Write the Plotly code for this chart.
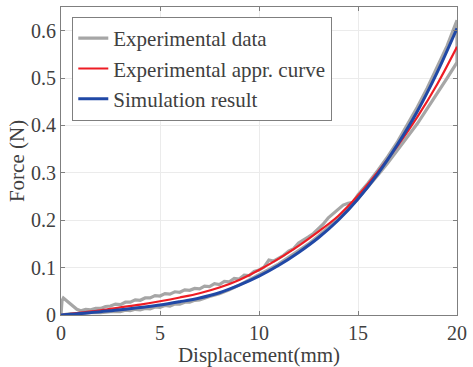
import plotly.graph_objects as go

# ---- data ----
# Experimental data: loading (upper) branch
exp_up_x = [0.0, 0.05, 0.12, 0.3, 0.5, 0.8, 1.0, 1.25, 1.5, 1.75, 2.0, 2.25, 2.5, 2.75, 3.0,
            3.25, 3.5, 3.75, 4.0, 4.25, 4.5, 4.75, 5.0, 5.25, 5.5, 5.75, 6.0, 6.25, 6.5,
            6.75, 7.0, 7.25, 7.5, 7.75, 8.0, 8.25, 8.5, 8.75, 9.0, 9.25, 9.5, 9.75, 10.0,
            10.25, 10.5, 10.75, 11.0, 11.25, 11.5, 11.75, 12.0, 12.25, 12.5, 12.75, 13.0,
            13.25, 13.5, 13.75, 14.0, 14.25, 14.5, 14.75, 15.0, 15.5, 16.0, 16.5, 17.0,
            17.5, 18.0, 18.5, 19.0, 19.5, 20.0]
exp_up_y = [0.0, 0.030, 0.036, 0.030, 0.022, 0.012, 0.009, 0.012, 0.011, 0.014, 0.014, 0.018,
            0.019, 0.023, 0.022, 0.027, 0.027, 0.032, 0.031, 0.036, 0.036, 0.041, 0.040,
            0.045, 0.044, 0.049, 0.048, 0.053, 0.052, 0.056, 0.055, 0.061, 0.060, 0.066,
            0.064, 0.071, 0.070, 0.077, 0.076, 0.084, 0.083, 0.092, 0.095, 0.101, 0.116,
            0.114, 0.120, 0.126, 0.135, 0.140, 0.152, 0.158, 0.165, 0.172, 0.182, 0.192,
            0.205, 0.214, 0.222, 0.232, 0.236, 0.238, 0.254, 0.278, 0.305, 0.334, 0.366,
            0.401, 0.439, 0.479, 0.522, 0.568, 0.622]
# Experimental data: unloading (lower) branch, from 20 mm back to 0
exp_dn_x = [20.0, 19.5, 19.0, 18.5, 18.0, 17.5, 17.0, 16.5, 16.0, 15.5, 15.0, 14.5, 14.0,
            13.5, 13.0, 12.5, 12.0, 11.5, 11.0, 10.5, 10.0, 9.5, 9.0, 8.5, 8.0, 7.5, 7.0,
            6.75, 6.5, 6.25, 6.0, 5.75, 5.5, 5.25, 5.0, 4.75, 4.5, 4.25, 4.0, 3.75, 3.5,
            3.25, 3.0, 2.5, 2.0, 1.5, 1.0, 0.5, 0.0]
exp_dn_y = [0.533, 0.500, 0.468, 0.436, 0.404, 0.376, 0.348, 0.321, 0.295, 0.270, 0.246,
            0.225, 0.204, 0.185, 0.167, 0.150, 0.136, 0.121, 0.108, 0.096, 0.085, 0.073,
            0.063, 0.053, 0.045, 0.039, 0.032, 0.031, 0.027, 0.027, 0.023, 0.023, 0.019,
            0.020, 0.016, 0.017, 0.013, 0.014, 0.011, 0.012, 0.009, 0.010, 0.007, 0.007,
            0.005, 0.005, 0.003, 0.003, 0.0]

# Experimental approximation curve
appr_x = [0, 1, 2, 3, 4, 5, 6, 7, 8, 9, 10, 11, 12, 13, 14, 15, 16, 17, 18, 19, 20]
appr_y = [0.0, 0.005, 0.010, 0.016, 0.022, 0.029, 0.037, 0.046, 0.058, 0.074, 0.095, 0.119,
          0.146, 0.176, 0.209, 0.252, 0.302, 0.357, 0.418, 0.487, 0.566]

# Simulation result
sim_x = [0, 1, 2, 3, 4, 5, 6, 7, 8, 9, 10, 11, 12, 13, 14, 15, 16, 17, 18, 19, 20]
sim_y = [0.0, 0.003, 0.007, 0.011, 0.016, 0.021, 0.028, 0.036, 0.047, 0.063, 0.082, 0.105,
         0.132, 0.163, 0.200, 0.245, 0.298, 0.360, 0.430, 0.512, 0.605]

x_ticks = [0, 5, 10, 15, 20]
y_ticks = [0, 0.1, 0.2, 0.3, 0.4, 0.5, 0.6]
y_tick_labels = ["0", "0.1", "0.2", "0.3", "0.4", "0.5", "0.6"]

names = ["Experimental data", "Experimental appr. curve", "Simulation result"]

FONT = "Liberation Serif"
TXT = "#404040"
AX = "#7f7f7f"

fig = go.Figure()
fig.add_trace(go.Scatter(x=exp_up_x + exp_dn_x, y=exp_up_y + exp_dn_y, mode="lines",
                         name=names[0], line=dict(color="#a6a6a6", width=3.2)))
fig.add_trace(go.Scatter(x=appr_x, y=appr_y, mode="lines", name=names[1],
                         line=dict(color="#ee1c24", width=2.2, shape="spline")))
fig.add_trace(go.Scatter(x=sim_x, y=sim_y, mode="lines", name=names[2],
                         line=dict(color="#2048a6", width=3, shape="spline")))

axis_common = dict(showline=True, linecolor=AX, linewidth=1.2, mirror="ticks",
                   ticks="inside", ticklen=4, tickcolor=AX, showgrid=True,
                   gridcolor="#ebebeb", gridwidth=1, zeroline=False,
                   tickfont=dict(family=FONT, size=20, color=TXT))

fig.update_xaxes(range=[0, 20], tickvals=x_ticks, ticktext=[str(v) for v in x_ticks],
                 title=dict(text="Displacement(mm)", font=dict(family=FONT, size=21, color=TXT),
                            standoff=2),
                 **axis_common)
fig.update_yaxes(range=[0, 0.65], tickvals=y_ticks, ticktext=y_tick_labels,
                 title=dict(text="Force (N)", font=dict(family=FONT, size=21, color=TXT),
                            standoff=0),
                 **axis_common)

fig.update_layout(
    width=473, height=367,
    margin=dict(l=61, r=13, t=6, b=52),
    paper_bgcolor="white", plot_bgcolor="white",
    font=dict(family=FONT, size=20, color=TXT),
    showlegend=True,
    legend=dict(x=0.028, y=0.968, xanchor="left", yanchor="top",
                bgcolor="white", bordercolor=AX, borderwidth=1.2,
                font=dict(family=FONT, size=21, color=TXT),
                itemwidth=30, tracegroupgap=0),
)

fig.write_html("out.html")
